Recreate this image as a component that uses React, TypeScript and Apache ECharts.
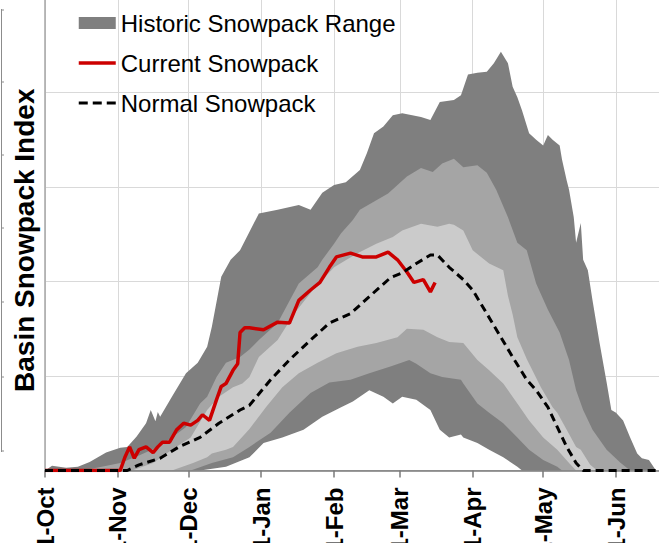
import React, { useEffect, useRef } from "react";
import * as echarts from "echarts";

// ---- axis categories (days from 1-Oct) ----
const monthNames = ["Oct", "Nov", "Dec", "Jan", "Feb", "Mar", "Apr", "May", "Jun"];
const monthLengths = [31, 30, 31, 31, 28, 31, 30, 31, 30];

// ---- historic range boundaries: [dayIndex, value] ----
const maxVals = [
  [0, 0], [3, 0.5], [9, 0.3], [14, 0.4], [19, 0.9], [26, 1.9], [32, 2.4], [35, 2.5], [39, 3.6], [43, 5.0],
  [45, 6.4], [47, 5.2], [48, 6.2], [49, 5.7], [54, 7.8], [60, 10.3], [65, 11.4], [69, 13.1], [71, 15.2],
  [75, 20.5], [79, 22.3], [83, 23.3], [91, 27.2], [99, 27.6], [108, 28.1], [113, 27.6], [118, 29.4],
  [123, 30.2], [128, 30.5], [134, 31.8], [137, 33.6], [140, 35.7], [144, 36.4], [148, 37.6], [152, 37.8],
  [160, 37.4], [164, 37.1], [168, 39.0], [174, 39.2], [177, 39.7], [180, 41.9], [184, 42.1], [188, 42.2],
  [191, 43.1], [194, 44.3], [197, 43.1], [199, 40.6], [201, 39.5], [203, 38.1], [206, 35.7], [209, 35.0],
  [212, 34.4], [214, 35.5], [216, 35.0], [219, 34.4], [220, 32.9], [222, 30.7], [223, 29.7], [225, 26.8],
  [226, 24.1], [228, 26.2], [229, 22.3], [231, 21.2], [233, 18.0], [236, 13.5], [239, 9.3], [241, 6.4],
  [243, 6.1], [246, 5.3], [249, 3.5], [252, 1.8], [254, 1.3], [257, 1.1], [260, 0], [272, 0],
];
const p90Vals = [
  [0, 0], [15, 0], [22, 0.3], [32, 0.8], [40, 1.6], [48, 2.5], [54, 3.5], [60, 4.6], [66, 7.1], [69, 7.8],
  [73, 9.9], [77, 11.4], [83, 12.0], [87, 12.8], [91, 13.8], [99, 15.6], [108, 19.8], [116, 21.5],
  [118, 22.3], [123, 24.0], [126, 25.1], [131, 26.5], [134, 27.6], [141, 28.6], [146, 29.3], [154, 31.1],
  [160, 32.0], [165, 31.6], [169, 32.5], [174, 33.0], [178, 32.1], [184, 32.3], [188, 31.5], [192, 29.7],
  [197, 26.8], [201, 24.1], [205, 23.3], [209, 19.8], [214, 17.0], [219, 14.6], [223, 11.7], [226, 8.5],
  [229, 6.4], [233, 4.3], [239, 2.2], [245, 0.8], [249, 0], [272, 0],
];
const p70Vals = [
  [0, 0], [37, 0], [46, 0.8], [54, 2.2], [62, 3.5], [69, 6.4], [74, 7.8], [80, 8.8], [84, 9.2], [87, 9.9],
  [91, 12.0], [99, 13.8], [106, 16.6], [114, 19.1], [123, 21.5], [133, 23.0], [141, 24.0], [148, 24.7],
  [152, 25.4], [160, 26.1], [167, 25.8], [172, 26.1], [174, 26.0], [178, 25.4], [182, 23.3], [189, 21.9],
  [195, 21.2], [197, 18.5], [199, 16.5], [201, 14.1], [205, 11.8], [211, 8.8], [216, 6.7], [218, 6.1],
  [222, 4.3], [226, 2.5], [228, 2.2], [232, 0.6], [235, 0], [272, 0],
];
const p30Vals = [
  [0, 0], [54, 0], [63, 0.8], [69, 1.4], [71, 1.8], [77, 2.2], [80, 2.5], [87, 4.4], [94, 6.7], [101, 8.8],
  [108, 10.3], [116, 11.4], [124, 12.4], [133, 13.1], [141, 13.5], [150, 14.1], [154, 15.0], [161, 14.9],
  [167, 14.1], [172, 13.6], [178, 13.5], [184, 11.7], [189, 10.6], [195, 9.2], [201, 7.1], [206, 5.3],
  [212, 3.5], [218, 2.2], [223, 0.8], [226, 0], [272, 0],
];
const p10Vals = [
  [0, 0], [62, 0], [71, 0.8], [80, 1.4], [87, 2.5], [96, 4.0], [104, 6.1], [113, 8.2], [121, 9.3],
  [130, 9.6], [138, 10.3], [147, 11.0], [155, 11.7], [158, 11.3], [164, 10.3], [169, 9.9], [177, 9.6],
  [178, 9.2], [184, 7.1], [189, 6.1], [195, 5.0], [201, 3.5], [206, 2.2], [212, 1.1], [218, 0.4],
  [220, 0], [272, 0],
];
const minVals = [
  [0, 0], [66, 0], [77, 0.4], [87, 1.4], [93, 2.9], [101, 3.5], [110, 4.3], [118, 5.7], [126, 6.7],
  [131, 7.3], [138, 8.5], [144, 7.8], [148, 7.1], [152, 7.8], [158, 7.5], [164, 6.4], [168, 4.3],
  [172, 3.5], [177, 3.8], [178, 3.5], [184, 2.9], [189, 2.2], [195, 1.4], [201, 0.4], [203, 0], [272, 0],
];

// ---- current and normal snowpack ----
const currentVals = [
  [0, 0], [32, 0], [34, 1.4], [36, 2.5], [38, 1.3], [40, 2.2], [43, 2.5], [46, 1.9], [48, 2.5], [50, 3.0],
  [53, 3.0], [56, 4.3], [59, 5.0], [62, 4.8], [65, 5.3], [67, 5.9], [70, 5.3], [73, 7.5], [75, 8.9],
  [77, 9.2], [80, 10.6], [82, 11.3], [83, 14.6], [85, 15.1], [87, 15.1], [93, 14.9], [99, 15.7],
  [104, 15.6], [108, 18.0], [113, 19.1], [117, 19.9], [121, 21.5], [124, 22.6], [130, 23.0], [135, 22.6],
  [141, 22.6], [146, 23.1], [150, 22.3], [154, 21.0], [157, 19.9], [161, 20.2], [164, 18.9], [166, 19.9],
];
const normalVals = [
  [0, 0], [35, 0], [40, 0.6], [49, 1.3], [57, 2.5], [66, 3.5], [74, 5.0], [83, 6.4], [87, 6.9], [96, 9.6],
  [104, 11.7], [113, 13.8], [121, 15.6], [130, 16.6], [138, 18.4], [147, 20.4], [152, 20.9], [158, 21.9],
  [164, 22.8], [167, 22.8], [172, 21.5], [178, 20.2], [182, 19.1], [188, 16.6], [194, 14.1], [199, 12.0],
  [205, 9.6], [209, 8.5], [214, 6.7], [218, 4.6], [222, 2.5], [226, 0.8], [229, 0], [272, 0],
];

const categories: string[] = [];
monthNames.forEach((m, i) => {
  for (let d = 1; d <= monthLengths[i]; d++) categories.push(`${d}-${m}`);
});
const isMonthStart = (v: string) => v.split("-")[0] === "1";

const FONT = '"Liberation Sans", Arial, sans-serif';
const DARK = "#7f7f7f";
const MED = "#a5a5a5";
const LIGHT = "#cbcbcb";

function band(name: string, data: number[][], color: string) {
  return {
    name,
    type: "line",
    data,
    symbol: "none",
    color,
    itemStyle: { color },
    lineStyle: { width: 0, opacity: 0 },
    areaStyle: { color, opacity: 1 },
    z: 2,
    silent: true,
  };
}

export default function App() {
  const ref = useRef<HTMLDivElement>(null);
  useEffect(() => {
    if (!ref.current) return;
    const chart = echarts.init(ref.current, null, { renderer: "svg" });
    const unit = 2.35;
    chart.setOption({
      animation: false,
      grid: {
        left: 45,
        top: -2,
        width: (categories.length - 1) * unit,
        height: 472.5,
        containLabel: false,
        outerBoundsMode: "none",
      },
      legend: {
        orient: "vertical",
        left: 77,
        top: 11,
        padding: 0,
        itemGap: 16,
        itemWidth: 37,
        itemHeight: 12,
        selectedMode: false,
        textStyle: { fontSize: 24, color: "#000", fontFamily: FONT },
        data: [
          { name: "Historic Snowpack Range", icon: "rect", itemStyle: { color: DARK, borderWidth: 0 } },
          { name: "Current Snowpack", itemStyle: { opacity: 0 }, lineStyle: { width: 3.5, color: "#cc0000" } },
          { name: "Normal Snowpack", itemStyle: { opacity: 0 }, lineStyle: { width: 3, color: "#000", type: [9, 5] } },
        ],
      },
      xAxis: [
        {
          type: "category",
          data: categories,
          boundaryGap: false,
          axisLine: { show: false },
          axisTick: { show: false },
          axisLabel: { show: false },
          splitLine: { show: true, interval: (i: number, v: string) => isMonthStart(v), lineStyle: { color: "#d9d9d9", width: 1 } },
        },
        {
          type: "category",
          data: categories,
          boundaryGap: false,
          position: "bottom",
          z: 3,
          axisLine: { show: true, onZero: false, lineStyle: { color: "#7a7a7a", width: 1.5 } },
          axisTick: { show: true, interval: (i: number, v: string) => isMonthStart(v), length: 7, lineStyle: { color: "#7a7a7a", width: 1.5 } },
          axisLabel: {
            show: true,
            interval: (i: number, v: string) => isMonthStart(v),
            rotate: 90,
            margin: 17,
            fontSize: 24,
            fontWeight: "bold",
            color: "#000",
            fontFamily: FONT,
          },
          splitLine: { show: false },
        },
      ],
      yAxis: {
        type: "value",
        min: 0,
        max: 50,
        interval: 10,
        name: "Basin Snowpack Index",
        nameLocation: "middle",
        nameGap: 7,
        nameRotate: 90,
        nameTextStyle: { fontSize: 28, fontWeight: "bold", color: "#000", fontFamily: FONT, padding: [0, 12, 0, 0] },
        axisLine: { show: true, lineStyle: { color: "#a6a6a6", width: 1.5 } },
        axisTick: { show: false },
        axisLabel: { show: false },
        splitLine: { show: true, lineStyle: { color: "#d9d9d9", width: 1.2 } },
      },
      graphic: [
        { type: "line", shape: { x1: 1.5, y1: 9, x2: 1.5, y2: 452 }, style: { stroke: "#8c8c8c", lineWidth: 1 }, silent: true },
        ...[10, 82, 155, 228, 302, 377, 451].map((y) => ({
          type: "line",
          shape: { x1: 1.5, y1: y, x2: 4, y2: y },
          style: { stroke: "#8c8c8c", lineWidth: 1 },
          silent: true,
        })),
      ],
      series: [
        band("Historic Snowpack Range", maxVals, DARK),
        band("p90", p90Vals, MED),
        band("p70", p70Vals, LIGHT),
        band("p30", p30Vals, MED),
        band("p10", p10Vals, DARK),
        band("min", minVals, "#ffffff"),
        {
          name: "Current Snowpack",
          type: "line",
          data: currentVals,
          symbol: "none",
          color: "#cc0000",
          lineStyle: { color: "#cc0000", width: 3.5 },
          z: 4,
          silent: true,
        },
        {
          name: "Normal Snowpack",
          type: "line",
          data: normalVals,
          symbol: "none",
          color: "#000",
          lineStyle: { color: "#000", width: 3, type: [8, 5] },
          z: 5,
          silent: true,
        },
      ],
    });
    return () => chart.dispose();
  }, []);
  return (
    <div
      ref={ref}
      style={{ position: "fixed", left: 0, top: 0, width: 659, height: 543, overflow: "hidden", background: "#fff" }}
    />
  );
}
